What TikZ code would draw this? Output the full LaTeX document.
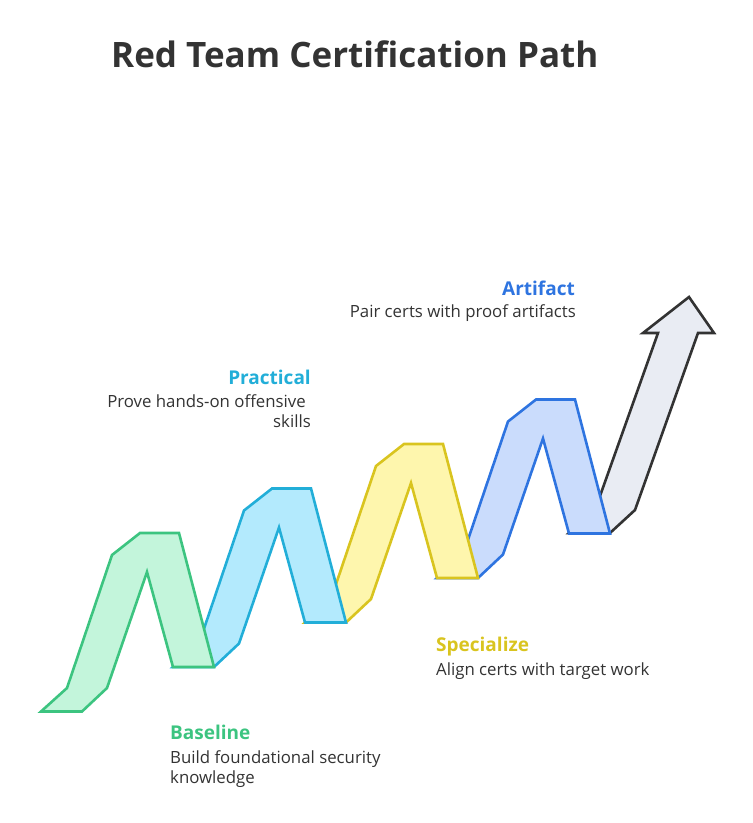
\documentclass[tikz,border=0pt]{standalone}
\usepackage{fontspec}
\setmainfont{Open Sans}
\definecolor{txt}{HTML}{333333}
\definecolor{gS}{HTML}{3CC480}\definecolor{gF}{HTML}{C3F5DB}
\definecolor{cS}{HTML}{22AED8}\definecolor{cF}{HTML}{B3EAFD}
\definecolor{yS}{HTML}{D9C41F}\definecolor{yF}{HTML}{FEF6AD}
\definecolor{bS}{HTML}{2E74E0}\definecolor{bF}{HTML}{CADCFC}
\definecolor{aS}{HTML}{333333}\definecolor{aF}{HTML}{E9ECF3}
\begin{document}
\begin{tikzpicture}[x=1pt,y=-1pt,
  seg/.style={line width=2.6pt, line join=miter},
  head/.style={font=\fontsize{19}{22}\selectfont\bfseries},
  body/.style={font=\fontsize{16.8}{20}\selectfont, text=txt, inner sep=0pt}]
\useasboundingbox (0,0) rectangle (753,823);
% arrow (back-most)
\draw[seg, draw=aS, fill=aF] (569,533) -- (610,533) -- (635,510) -- (698,333) -- (714,333) -- (689,297) -- (643,333) -- (658,333) -- (595,510) -- cycle;
% zigzag segments, drawn back to front
\foreach \k/\s/\f in {3/bS/bF, 2/yS/yF, 1/cS/cF, 0/gS/gF}{
  \begin{scope}[shift={(132*\k,-44.5*\k)}]
  \draw[seg, draw=\s, fill=\f] (41,711.5) -- (82,711.5) -- (107,688) -- (147,572) -- (173,667) -- (214,667) -- (179,533) -- (140,533) -- (112,555) -- (67,688) -- cycle;
  \end{scope}
}
% title
\node[anchor=base west, inner sep=0pt, text=txt, font=\fontsize{35}{40}\selectfont\bfseries] (title) at (111,67) {Red Team Certification Path};
% labels
\node[head, text=bS, anchor=base east, inner sep=0pt] (arth) at (575,295) {Artifact};
\node[body, anchor=base east] (artb) at (576,317) {Pair certs with proof artifacts};
\node[head, text=cS, anchor=base east, inner sep=0pt] (prah) at (311,384) {Practical};
\node[body, anchor=base east] (prab1) at (306,407) {Prove hands-on offensive};
\node[body, anchor=base east] (prab2) at (311,427) {skills};
\node[head, text=yS, anchor=base west, inner sep=0pt] (spch) at (436,651) {Specialize};
\node[body, anchor=base west] (spcb) at (436,675) {Align certs with target work};
\node[head, text=gS, anchor=base west, inner sep=0pt] (basH) at (170,739) {Baseline};
\node[body, anchor=base west] (basb1) at (170,763) {Build foundational security};
\node[body, anchor=base west] (basb2) at (170,783) {knowledge};
\end{tikzpicture}
\end{document}
